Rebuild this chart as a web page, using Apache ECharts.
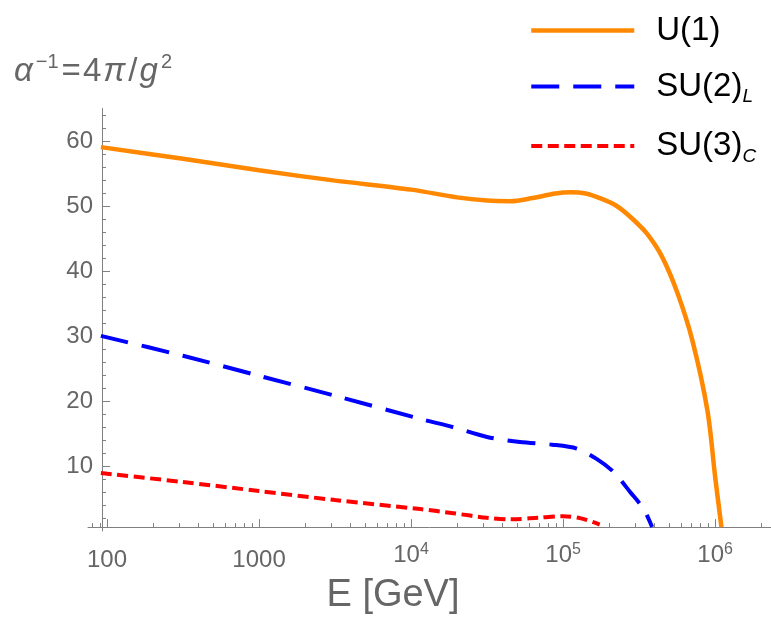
<!DOCTYPE html>
<html><head><meta charset="utf-8">
<script src="https://cdn.jsdelivr.net/npm/echarts@6/dist/echarts.min.js"></script>
<style>html,body{margin:0;padding:0;background:#fff}#c{width:771px;height:620px}</style>
</head><body><div id="c"></div>
<script>
// Energy [GeV] and inverse couplings
const energyU1 = [91.19, 316, 1000, 3162, 1.0e4, 2.0e4, 3.16e4, 4.5e4, 6.3e4, 8.9e4, 1.12e5, 1.41e5, 1.78e5, 2.24e5, 2.82e5, 3.55e5, 4.47e5, 5.62e5, 7.08e5, 8.91e5, 1.0e6, 1.1e6];
const alphaU1  = [59.0, 57.2, 55.4, 53.8, 52.4, 51.2, 50.7, 50.6, 51.1, 51.8, 52.0, 51.8, 51.0, 49.9, 48.0, 45.6, 42.0, 36.5, 29.0, 18.0, 7.8, 0];
const energySU2 = [91.19, 316, 1000, 3162, 1.15e4, 1.9e4, 3.16e4, 5.2e4, 8.5e4, 1.23e5, 1.66e5, 2.14e5, 2.75e5, 3.39e5, 3.85e5];
const alphaSU2  = [29.7, 26.6, 23.5, 20.4, 16.8, 15.5, 14.0, 13.2, 12.8, 12.2, 10.6, 8.6, 5.5, 2.8, 0];
const energySU3 = [91.19, 316, 1000, 3162, 1.15e4, 1.9e4, 3.16e4, 4.5e4, 6.8e4, 1.0e5, 1.29e5, 1.74e5];
const alphaSU3  = [8.4, 7.0, 5.6, 4.2, 2.8, 2.15, 1.45, 1.2, 1.45, 1.7, 1.4, 0.4];

const seriesNames = ['U(1)', 'SU(2)L', 'SU(3)C'];
const xMajorTicks = [100, 1000, 1e4, 1e5, 1e6];
const xTickLabels = ['100', '1000', '10{s|4}', '10{s|5}', '10{s|6}'];
const xMinorTicks = [80, 90, 200, 300, 400, 500, 600, 700, 800, 900,
  2000, 3000, 4000, 5000, 6000, 7000, 8000, 9000,
  2e4, 3e4, 4e4, 5e4, 6e4, 7e4, 8e4, 9e4,
  2e5, 3e5, 4e5, 5e5, 6e5, 7e5, 8e5, 9e5, 2e6];
const yMajorTicks = [10, 20, 30, 40, 50, 60];
const yMinorTicks = [2, 4, 6, 8, 12, 14, 16, 18, 22, 24, 26, 28, 32, 34, 36, 38, 42, 44, 46, 48, 52, 54, 56, 58, 62, 64];

const zip = (a, b) => a.map((v, i) => [v, b[i]]);
const FONT = '"Liberation Sans", Arial, sans-serif';
const GRAY = '#666666';
const AX = '#808080';

const chart = echarts.init(document.getElementById('c'), null, {renderer: 'canvas'});
chart.setOption({
  backgroundColor: '#ffffff',
  animation: false,
  textStyle: {fontFamily: FONT},
  graphic: [{
    type: 'text', left: 14, top: 52,
    style: {
      text: '{i|α}{sup|−1}{n|=}{n|4}{i|π}{n|/}{i|g}{sup|2}',
      fontSize: 33, fontWeight: 'normal', fill: GRAY, fontFamily: FONT,
      rich: {
        i: {fontSize: 33, fontStyle: 'italic', fontWeight: 'normal', fill: GRAY, fontFamily: FONT, lineHeight: 40, padding: [0, 3, 0, 0]},
        n: {fontSize: 33, fontWeight: 'normal', fill: GRAY, fontFamily: FONT, lineHeight: 40, padding: [0, 2, 0, 0]},
        sup: {fontSize: 20, fontWeight: 'normal', fill: GRAY, fontFamily: FONT, verticalAlign: 'top', lineHeight: 18, padding: [0, 3, 0, 0]}
      }
    }
  }],
  legend: {
    orient: 'vertical', left: 529, top: 14, padding: 0,
    itemWidth: 103, itemHeight: 14, itemGap: 23,
    data: seriesNames,
    itemStyle: {opacity: 0},
    lineStyle: {width: 'inherit'},
    formatter: function (name) {
      if (name === 'SU(2)L') return '{m|SU(2)}{sub|L}';
      if (name === 'SU(3)C') return '{m|SU(3)}{sub|C}';
      return '{m|' + name + '}';
    },
    textStyle: {
      padding: [0, 0, 0, 17],
      rich: {
        m: {fontSize: 33, color: '#000', fontFamily: FONT, lineHeight: 40},
        sub: {fontSize: 19, fontStyle: 'italic', color: '#000', fontFamily: FONT, lineHeight: 26, verticalAlign: 'bottom'}
      }
    }
  },
  grid: [
    {left: 88, right: 0, top: 108.5, bottom: 89},
    {left: 102, right: 0, top: 108.5, bottom: 89}
  ],
  xAxis: [
    {
      gridIndex: 0, type: 'log', min: 75, max: 2.33e6, position: 'bottom',
      axisLine: {show: true, lineStyle: {color: AX, width: 1}},
      axisTick: {show: true, inside: true, length: 8, customValues: xMajorTicks, lineStyle: {color: AX}},
      minorTick: {show: false},
      splitLine: {show: false},
      axisLabel: {
        show: true, margin: 14, customValues: xMajorTicks,
        formatter: function (v) {
          const i = xMajorTicks.findIndex(t => Math.abs(Math.log10(t) - Math.log10(v)) < 1e-6);
          const lab = i >= 0 ? xTickLabels[i] : '';
          return lab.indexOf('{') >= 0 ? '{b|' + lab.replace('{s|', '}{s|') : '{p|' + lab + '}';
        },
        rich: {
          p: {fontSize: 24, color: GRAY, fontFamily: FONT, lineHeight: 38},
          b: {fontSize: 24, color: GRAY, fontFamily: FONT, lineHeight: 28},
          s: {fontSize: 16, color: GRAY, fontFamily: FONT, lineHeight: 12, verticalAlign: 'top'}
        }
      },
      name: 'E [GeV]', nameLocation: 'middle', nameGap: 38,
      nameTextStyle: {fontSize: 38, color: GRAY, fontFamily: FONT, padding: [0, 73, 0, 0]}
    },
    {
      gridIndex: 0, type: 'log', min: 75, max: 2.33e6, position: 'bottom',
      axisLine: {show: false},
      axisTick: {show: true, inside: true, length: 4, customValues: xMinorTicks, lineStyle: {color: AX}},
      axisLabel: {show: false},
      splitLine: {show: false}
    },
    {
      gridIndex: 1, type: 'value', min: 0, max: 1, show: false, position: 'bottom'
    }
  ],
  yAxis: [
    {gridIndex: 0, type: 'value', min: 0, max: 65, show: false, position: 'left'},
    {
      gridIndex: 1, type: 'value', min: 0, max: 65, position: 'left',
      axisLine: {show: true, lineStyle: {color: AX, width: 1}},
      axisTick: {show: true, inside: true, length: 8, customValues: yMajorTicks, lineStyle: {color: AX}},
      axisLabel: {show: true, margin: 9, customValues: yMajorTicks, fontSize: 24, color: GRAY, fontFamily: FONT},
      splitLine: {show: false}
    },
    {
      gridIndex: 1, type: 'value', min: 0, max: 65, position: 'left',
      axisLine: {show: false},
      axisTick: {show: true, inside: true, length: 4, customValues: yMinorTicks, lineStyle: {color: AX}},
      axisLabel: {show: false},
      splitLine: {show: false}
    }
  ],
  series: [
    {
      name: seriesNames[0], type: 'line', xAxisIndex: 0, yAxisIndex: 0,
      data: zip(energyU1, alphaU1), smooth: 0.3, symbol: 'none',
      lineStyle: {color: '#FF8800', width: 4.5}, itemStyle: {color: '#FF8800'}
    },
    {
      name: seriesNames[1], type: 'line', xAxisIndex: 0, yAxisIndex: 0,
      data: zip(energySU2, alphaSU2), smooth: 0.3, symbol: 'none',
      lineStyle: {color: '#0000FF', width: 4, type: [28, 14]}, itemStyle: {color: '#0000FF'}
    },
    {
      name: seriesNames[2], type: 'line', xAxisIndex: 0, yAxisIndex: 0,
      data: zip(energySU3, alphaSU3), smooth: 0.3, symbol: 'none',
      lineStyle: {color: '#FF0000', width: 4, type: [11, 5.5]}, itemStyle: {color: '#FF0000'}
    }
  ]
});
</script></body></html>
